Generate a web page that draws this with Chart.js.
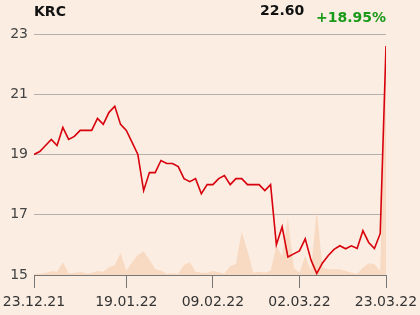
<!DOCTYPE html>
<html>
<head>
<meta charset="utf-8">
<script src="https://cdn.jsdelivr.net/npm/chart.js@4"></script>
<style>
  html, body { margin: 0; padding: 0; background: #fbede1; }
  #wrap { position: relative; width: 420px; height: 315px; }
  .hdr { position: absolute; font-family: 'DejaVu Sans', sans-serif; font-weight: bold; font-size: 14px; line-height: 1; }
  #name { left: 34px; top: 4px; color: #111; }
  #last { left: 260px; top: 3px; color: #111; }
  #chg { left: 316px; top: 10px; color: #1a9a1a; }
</style>
</head>
<body>
<div id="wrap">
  <canvas id="chart" width="420" height="315"></canvas>
  <div class="hdr" id="name">KRC</div>
  <div class="hdr" id="last">22.60</div>
  <div class="hdr" id="chg">+18.95%</div>
</div>
<script>
const tickLabels = ['23.12.21', '19.01.22', '09.02.22', '02.03.22', '23.03.22'];
const tickIndex = [0, 16, 31, 46, 61];

const prices = [
  19.0, 19.1, 19.3, 19.5, 19.3, 19.9, 19.5, 19.6, 19.8, 19.8,
  19.8, 20.2, 20.0, 20.4, 20.6, 20.0, 19.8, 19.4, 19.0, 17.8,
  18.4, 18.4, 18.8, 18.7, 18.7, 18.6, 18.2, 18.1, 18.2, 17.7,
  18.0, 18.0, 18.2, 18.3, 18.0, 18.2, 18.2, 18.0, 18.0, 18.0,
  17.8, 18.0, 16.0, 16.6, 15.6, 15.7, 15.8, 16.2, 15.5, 15.05,
  15.4, 15.65, 15.85, 15.97, 15.87, 15.97, 15.88, 16.47, 16.08, 15.88,
  16.38, 22.6
];

const volumes = [
  1, 1.3, 2, 3.7, 3.3, 12.7, 1.7, 2, 3, 1.7,
  2, 4, 3.3, 7.7, 10, 22, 4.3, 12.7, 20, 23.3,
  15.3, 6, 4.3, 1.3, 1.7, 1.3, 10, 12.7, 3.3, 2.3,
  2, 4, 3, 1.3, 9, 11, 43, 24, 2.3, 3.3,
  2.3, 4, 29, 19, 57, 7.3, 2.3, 19, 4, 64,
  7.3, 5.7, 5.7, 5.7, 4, 2.3, 1.3, 7.3, 11.7, 10.7,
  4, 236
];

const font = { family: "'DejaVu Sans', sans-serif", size: 14 };

new Chart(document.getElementById('chart'), {
  type: 'line',
  data: {
    datasets: [
      {
        label: 'Price',
        data: prices.map((v, i) => ({ x: i, y: v })),
        borderColor: '#d8000c',
        borderWidth: 1.6,
        pointRadius: 0,
        tension: 0,
        fill: false,
        yAxisID: 'y',
        order: 1,
      },
      {
        label: 'Volume',
        data: volumes.map((v, i) => ({ x: i, y: v })),
        borderWidth: 0,
        backgroundColor: '#f8d9c2',
        pointRadius: 0,
        tension: 0,
        fill: 'origin',
        yAxisID: 'vol',
        order: 2,
      },
    ],
  },
  options: {
    responsive: false,
    animation: false,
    layout: { padding: { top: 34, right: 34, left: 0, bottom: 0 } },
    plugins: { legend: { display: false }, tooltip: { enabled: false } },
    scales: {
      x: {
        type: 'linear',
        min: 0,
        max: 61,
        afterBuildTicks: (scale) => {
          scale.ticks = tickIndex.map((v) => ({ value: v }));
        },
        afterFit: (scale) => {
          scale.height = 40;
          scale.paddingLeft = 0;
          scale.paddingRight = 0;
        },
        ticks: {
          autoSkip: false,
          maxRotation: 0,
          padding: 6,
          color: '#333',
          font: font,
          callback: (v) => tickLabels[tickIndex.indexOf(v)],
        },
        grid: { drawOnChartArea: false, tickLength: 13, color: '#777' },
        border: { color: '#777' },
      },
      y: {
        position: 'left',
        min: 15,
        max: 23,
        afterFit: (scale) => { scale.width = 34; },
        ticks: { stepSize: 2, padding: 6, color: '#444', font: font },
        grid: { color: '#b3b0ad', drawTicks: false },
        border: { display: false },
      },
      vol: {
        display: false,
        min: 0,
        max: 240,
      },
    },
  },
});
</script>
</body>
</html>
